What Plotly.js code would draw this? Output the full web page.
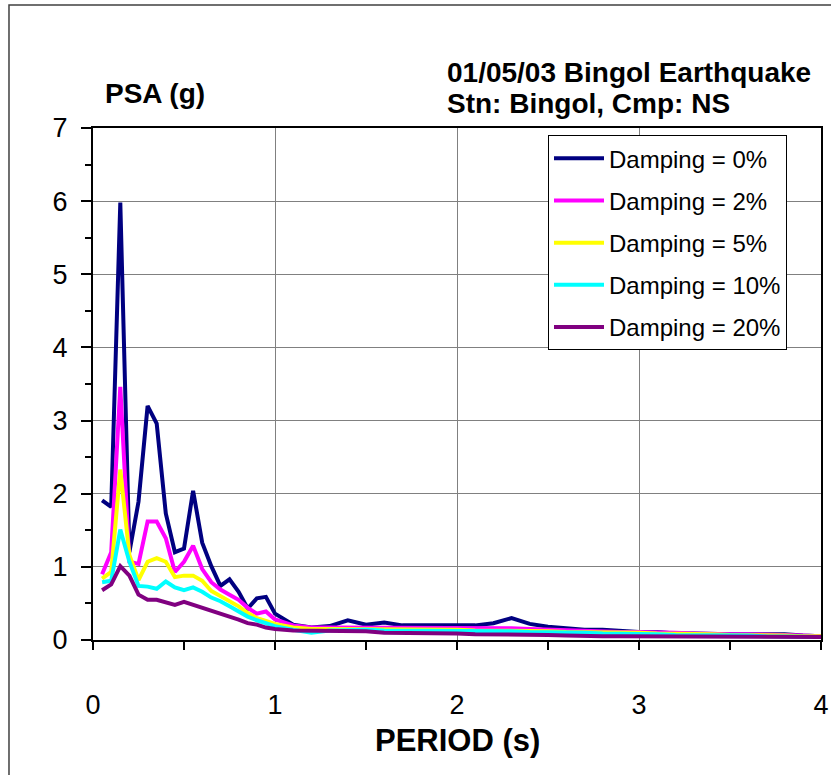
<!DOCTYPE html>
<html><head><meta charset="utf-8">
<script src="https://cdn.plot.ly/plotly-3.0.1.min.js"></script>
<style>html,body{margin:0;padding:0;background:#fff}#chart{width:831px;height:775px}</style>
</head><body><div id="chart"></div>
<script>
const period = [0.05,0.10,0.15,0.20,0.25,0.30,0.35,0.40,0.45,0.50,0.55,0.60,0.65,0.70,0.75,0.80,0.85,0.90,0.95,1.00,
  1.1,1.2,1.3,1.4,1.5,1.6,1.7,1.8,1.9,2.0,2.1,2.2,2.3,2.4,2.5,2.6,2.7,2.8,2.9,3.0,3.1,3.2,3.3,3.4,3.5,3.6,3.7,3.8,3.9,4.0];
const psa0 = [1.91,1.82,5.98,1.20,1.89,3.20,2.96,1.73,1.20,1.25,2.04,1.33,1.01,0.74,0.83,0.66,0.43,0.57,0.59,0.36,
  0.21,0.17,0.19,0.27,0.21,0.24,0.20,0.20,0.20,0.21,0.20,0.23,0.30,0.22,0.18,0.16,0.14,0.14,0.12,0.11,0.11,0.09,0.09,0.08,0.08,0.08,0.08,0.08,0.06,0.05];
const psa2 = [0.90,1.20,3.46,1.07,1.04,1.62,1.62,1.39,0.93,1.07,1.29,0.97,0.79,0.69,0.62,0.55,0.44,0.36,0.39,0.28,
  0.20,0.17,0.17,0.17,0.17,0.17,0.17,0.17,0.17,0.17,0.16,0.16,0.16,0.15,0.14,0.13,0.12,0.12,0.11,0.11,0.11,0.10,0.09,0.08,0.08,0.08,0.08,0.07,0.06,0.05];
const psa5 = [0.84,0.93,2.33,1.16,0.82,1.07,1.12,1.07,0.86,0.88,0.88,0.81,0.67,0.60,0.53,0.46,0.37,0.30,0.26,0.22,
  0.17,0.15,0.15,0.15,0.15,0.15,0.15,0.15,0.15,0.14,0.13,0.13,0.13,0.13,0.12,0.11,0.11,0.11,0.10,0.10,0.09,0.09,0.08,0.08,0.07,0.07,0.06,0.06,0.05,0.05];
const psa10 = [0.79,0.81,1.51,1.07,0.74,0.73,0.70,0.80,0.72,0.68,0.72,0.66,0.58,0.53,0.46,0.39,0.32,0.27,0.23,0.19,
  0.14,0.10,0.13,0.14,0.14,0.13,0.13,0.13,0.13,0.12,0.12,0.12,0.12,0.11,0.11,0.10,0.10,0.09,0.09,0.09,0.08,0.07,0.07,0.06,0.06,0.06,0.05,0.05,0.05,0.04];
const psa20 = [0.68,0.76,1.01,0.88,0.62,0.55,0.55,0.52,0.48,0.52,0.48,0.45,0.41,0.37,0.33,0.28,0.23,0.21,0.17,0.15,
  0.13,0.13,0.13,0.13,0.12,0.10,0.10,0.10,0.10,0.09,0.08,0.08,0.08,0.08,0.07,0.06,0.05,0.05,0.05,0.05,0.05,0.05,0.05,0.05,0.04,0.04,0.04,0.04,0.04,0.04];

const seriesNames = ["Damping = 0%","Damping = 2%","Damping = 5%","Damping = 10%","Damping = 20%"];
const seriesValues = [psa0, psa2, psa5, psa10, psa20];
const seriesColors = ["#000080","#FF00FF","#FFFF00","#00FFFF","#800080"];
const xTicks = [0,1,2,3,4];
const yTicks = [0,1,2,3,4,5,6,7];

const FONT = "Liberation Sans, Arial, sans-serif";

const traces = seriesNames.map((n,i)=>({
  x: period, y: seriesValues[i], name: n, type: 'scatter', mode: 'lines',
  legendgroup: 'g'+i,
  line: {color: seriesColors[i], width: 4}
}));

const layout = {
  width: 831, height: 775,
  margin: {l:93, r:10, t:128, b:135},
  paper_bgcolor: '#fff', plot_bgcolor: '#fff',
  showlegend: true,
  font: {family: FONT, color: '#000'},
  xaxis: {
    range: [0,4], tickvals: xTicks, ticktext: xTicks.map(String),
    ticks: 'outside', ticklen: 8, tickwidth: 2, tickcolor: '#000',
    showline: true, linewidth: 2, linecolor: '#000', mirror: true,
    showgrid: true, gridcolor: '#808080', gridwidth: 1, zeroline: false,
    minor: {dtick: 0.5, tick0: 0, ticks: 'outside', ticklen: 8, tickwidth: 2, tickcolor: '#000', showgrid: false},
    tickfont: {family: FONT, size: 27, color: '#000'},
    ticklabelstandoff: 32
  },
  yaxis: {
    range: [0,7], tickvals: yTicks, ticktext: yTicks.map(String),
    ticks: 'outside', ticklen: 10, tickwidth: 2, tickcolor: '#000',
    showline: true, linewidth: 2, linecolor: '#000', mirror: true,
    showgrid: true, gridcolor: '#808080', gridwidth: 1, zeroline: false,
    minor: {dtick: 0.5, tick0: 0, ticks: 'outside', ticklen: 6, tickwidth: 2, tickcolor: '#000', showgrid: false},
    tickfont: {family: FONT, size: 27, color: '#000'},
    ticklabelstandoff: 8
  },
  legend: {
    x: 0.625, y: 0.986, xanchor: 'left', yanchor: 'top',
    bgcolor: '#fff', bordercolor: '#000', borderwidth: 1,
    font: {family: FONT, size: 24, color: '#000'},
    traceorder: 'grouped', tracegroupgap: 8,
    itemwidth: 50
  },
  shapes: [
    {type:'rect', xref:'paper', yref:'paper', x0:-0.1154, x1:1.03, y0:-0.3, y1:1.240,
     line:{color:'#404040', width:1.5}, fillcolor:'rgba(0,0,0,0)', layer:'below'}
  ],
  annotations: [
    {text:'<b>PSA (g)</b>', xref:'paper', yref:'paper', x:0.0137, y:1.068, xanchor:'left', yanchor:'middle',
     showarrow:false, font:{family:FONT, size:28, color:'#000'}},
    {text:'<b>01/05/03 Bingol Earthquake</b>', xref:'paper', yref:'paper', x:0.4835, y:1.109, xanchor:'left', yanchor:'middle',
     showarrow:false, font:{family:FONT, size:28, color:'#000'}},
    {text:'<b>Stn: Bingol, Cmp: NS</b>', xref:'paper', yref:'paper', x:0.4835, y:1.047, xanchor:'left', yanchor:'middle',
     showarrow:false, font:{family:FONT, size:28, color:'#000'}},
    {text:'<b>PERIOD (s)</b>', xref:'paper', yref:'paper', x:0.5, y:-0.197, xanchor:'center', yanchor:'middle',
     showarrow:false, font:{family:FONT, size:31, color:'#000'}}
  ]
};

Plotly.newPlot('chart', traces, layout, {displayModeBar:false, staticPlot:true});
</script></body></html>
